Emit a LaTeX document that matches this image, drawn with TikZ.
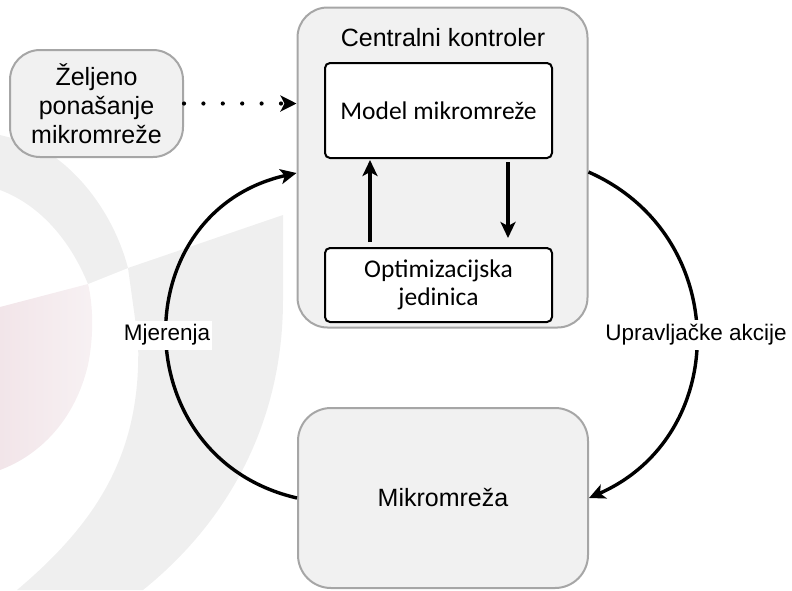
\documentclass[tikz,border=0pt]{standalone}
\usepackage{fontspec}
\setmainfont{Liberation Sans}
\newfontfamily\calfont{Carlito}
\usetikzlibrary{arrows.meta}

\definecolor{boxfill}{RGB}{241,241,241}
\definecolor{boxline}{RGB}{166,166,166}
\definecolor{wmgray}{RGB}{239,239,239}
\definecolor{wmpink}{RGB}{242,229,233}
\definecolor{wmpinklight}{RGB}{247,241,243}

\tikzset{
  graybox/.style={draw=boxline, line width=2pt, fill=boxfill, rounded corners=30pt, inner sep=0pt},
  innerbox/.style={draw=black, line width=2pt, fill=white, rounded corners=5pt, inner sep=0pt},
  boxtext/.style={font=\fontsize{25}{29}\selectfont, align=center},
  caltext/.style={font=\calfont\fontsize{25.5}{28}\selectfont, align=center},
  flow/.style={line width=3.4pt, -{Stealth[length=16pt,width=15pt,inset=4pt]}},
  dotflow/.style={line width=4.2pt, line cap=round, dash pattern=on 0pt off 19.4pt,
    -{Stealth[length=16pt,width=16pt,inset=4pt]}},
  edgelabel/.style={fill=white, font=\fontsize{22.5}{27}\selectfont, inner xsep=2pt, inner ysep=4pt},
}

\begin{document}
\begin{tikzpicture}[x=1pt, y=-1pt]
  \useasboundingbox (0,0) rectangle (792,590);

  % faint logo in the background
  \fill[wmgray] (20,140) .. controls (60,150) and (110,200) .. (128,268)
    -- (88,284) .. controls (70,240) and (40,205) .. (0,190) -- (0,135) -- cycle;
  \fill[wmgray] (128,268) -- (283,215) -- (283,300)
    .. controls (283,420) and (230,520) .. (143,590) -- (17,590)
    .. controls (100,520) and (142,450) .. (138,340) -- cycle;
  \shade[left color=wmpink, right color=wmpinklight]
    (0,307) -- (88,284) .. controls (92,300) and (95,330) .. (88,365)
    .. controls (75,420) and (40,455) .. (0,470) -- cycle;

  % blocks
  \node[graybox, boxtext, minimum width=173pt, minimum height=107pt] (want) at (96.5,103.5)
    {Željeno\\ponašanje\\mikromreže};
  \node[graybox, minimum width=290pt, minimum height=320pt] (ctrl) at (442.5,167.5) {};
  \node[boxtext, anchor=base] (ctitle) at (443,46) {Centralni kontroler};
  \node[innerbox, caltext, minimum width=227pt, minimum height=95pt] (model) at (438.5,110.5)
    {Model mikromreže};
  \node[innerbox, caltext, minimum width=227pt, minimum height=74pt] (opt) at (438.5,285)
    {Optimizacijska\\jedinica};
  \node[graybox, boxtext, rounded corners=33pt, minimum width=290pt, minimum height=180pt] (grid) at (443,498)
    {Mikromreža};

  % connectors
  \draw[dotflow] (want.east) -- (want.east -| ctrl.west);
  \draw[flow, shorten <=5pt, shorten >=1pt] ([xshift=-68.5pt]opt.north) -- ([xshift=-68.5pt]model.south);
  \draw[flow, shorten <=3pt, shorten >=9pt] ([xshift=69.5pt]model.south) -- ([xshift=69.5pt]opt.north);
  \draw[flow] (grid.west) .. controls +(-173,-40) and +(-173,39) .. ([yshift=-5.5pt]ctrl.west)
    node[pos=0.5, edgelabel] (meas) {Mjerenja};
  \draw[flow] ([yshift=-4.5pt]ctrl.east) .. controls +(143,63) and +(143,-63) .. (grid.east)
    node[pos=0.5, edgelabel] (act) {Upravljačke akcije};
\end{tikzpicture}
\end{document}
